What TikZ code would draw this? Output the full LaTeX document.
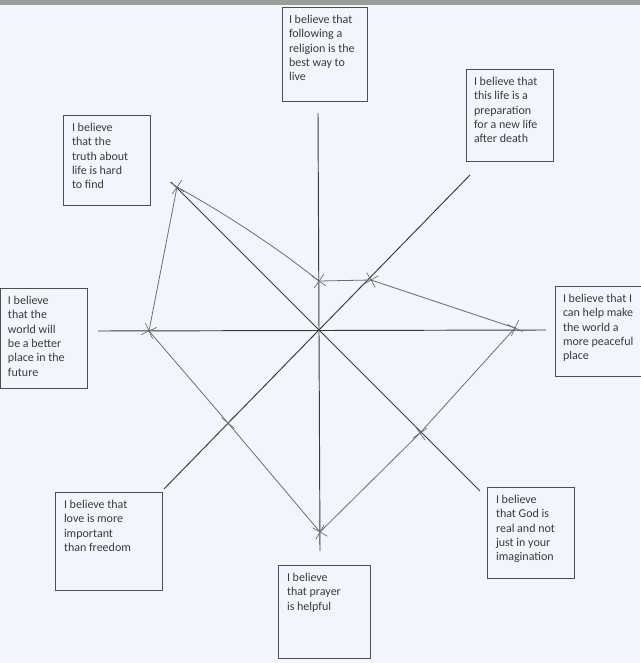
\documentclass[tikz,border=0pt]{standalone}
\usepackage{fontspec}
\setmainfont{Carlito}
\definecolor{paper}{HTML}{F2F5FB}
\definecolor{band}{HTML}{9C9C9C}
\definecolor{ink}{HTML}{3A3A3A}
\definecolor{pencil}{HTML}{6E6E6E}
% fixed-size text block for each statement, first baseline pushed down
\newcommand{\beliefpar}[3]{\parbox[t][#2][t]{#1}{\raggedright\fontsize{12pt}{14.3pt}\selectfont\rule{0pt}{16.5pt}#3}}
\begin{document}
\begin{tikzpicture}[x=1pt,y=-1pt,
  beliefbox/.style={draw=ink!90, line width=0.9pt, anchor=north west,
    inner xsep=8pt, inner ysep=0pt, text=ink, outer sep=0pt},
  axisline/.style={draw=ink, line width=0.95pt},
  trail/.style={draw=pencil, line width=0.8pt},
  tick/.style={draw=pencil, line width=0.7pt}]
  % sheet and scanner band
  \fill[paper] (0,0) rectangle (640,663);
  \fill[band] (0,0) rectangle (640,5);
  \useasboundingbox (0,0) rectangle (640,663);

  % statement boxes
  \node[beliefbox, inner xsep=7pt] (religion) at (282,7) {\beliefpar{71pt}{94pt}{I believe that\\following a\\religion is the\\best way to\\live}};
  \node[beliefbox] (afterlife) at (466,69) {\beliefpar{71pt}{92pt}{I believe that\\this life is a\\preparation\\for a new life\\after death}};
  \node[beliefbox, inner xsep=9pt] (truth) at (63,115) {\beliefpar{69pt}{90pt}{I believe\\that the\\truth about\\life is hard\\to find}};
  \node[beliefbox] (future) at (0,288) {\beliefpar{71pt}{100pt}{I believe\\that the\\world will\\be a better\\place in the\\future}};
  \node[beliefbox] (peace) at (555,286) {\beliefpar{80pt}{90pt}{I believe that I\\can help make\\the world a\\more peaceful\\place}};
  \node[beliefbox, inner xsep=9pt] (love) at (55,492) {\beliefpar{89pt}{98pt}{I believe that\\love is more\\important\\than freedom}};
  \node[beliefbox, inner xsep=9pt] (god) at (487,487) {\beliefpar{69pt}{91pt}{I believe\\that God is\\real and not\\just in your\\imagination}};
  \node[beliefbox, inner xsep=9pt] (prayer) at (278,565) {\beliefpar{74pt}{93pt}{I believe\\that prayer\\is helpful}};

  % axes
  \coordinate (o) at (320,331);
  \coordinate (aN) at (318,113);
  \coordinate (aS) at (320,551);
  \coordinate (aW) at (98,331);
  \coordinate (aE) at (546,330);
  \coordinate (aNE) at (470,175);
  \coordinate (aSW) at (164,489);
  \coordinate (aNW) at (171,182);
  \coordinate (aSE) at (480,491);
  \draw[axisline] (aN) -- (aS);
  \draw[axisline] (aW) -- (aE);
  \draw[axisline] (aNE) -- (aSW);
  \draw[axisline] (aNW) -- (aSE);

  % marked scores
  \coordinate (pN) at (319,281);
  \coordinate (pNE) at (371,280);
  \coordinate (pE) at (515,328);
  \coordinate (pSE) at (420,433);
  \coordinate (pS) at (320,532);
  \coordinate (pSW) at (228,423);
  \coordinate (pW) at (149,331);
  \coordinate (pNW) at (177,187);

  % joining line
  \draw[trail] (pNW) .. controls (226,214) and (276,247) .. (pN)
    -- (pNE) -- (pE) -- (pSE) -- (pS) -- (pSW) -- (pW) -- (pNW);

  % crosses
  \foreach \p/\r in {pN/10, pNE/-15, pE/20, pSE/-10, pS/15, pSW/5, pW/-20, pNW/10}{
    \draw[tick, rotate around={\r:(\p)}] ([shift={(-6,-6)}]\p) -- ([shift={(6,6)}]\p)
      ([shift={(-6,6)}]\p) -- ([shift={(6,-6)}]\p);
  }
\end{tikzpicture}
\end{document}
